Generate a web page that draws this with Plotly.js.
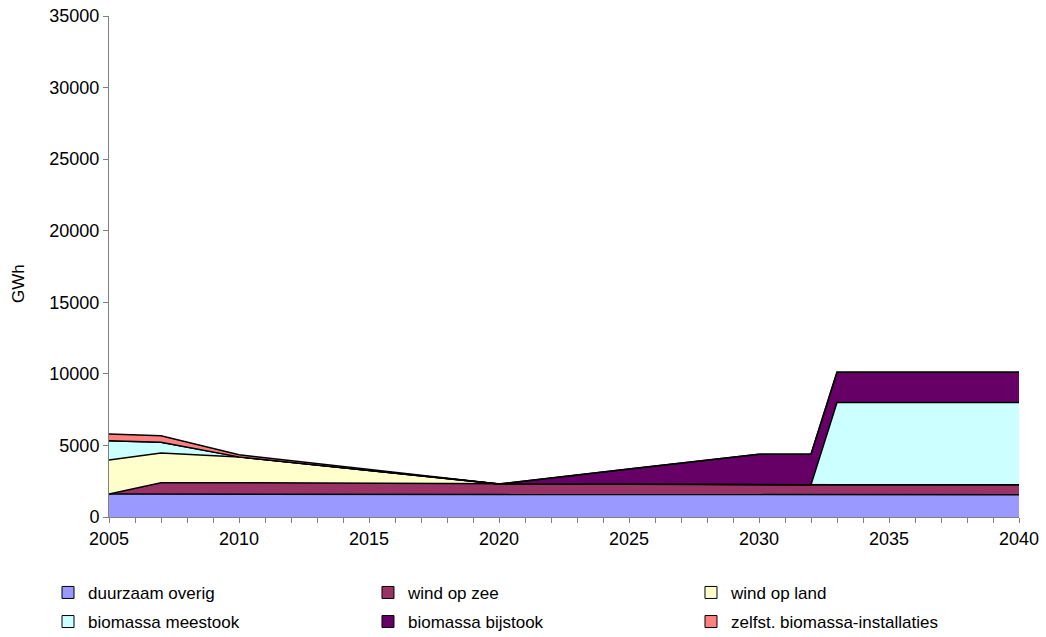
<!DOCTYPE html>
<html>
<head>
<meta charset="utf-8">
<script src="https://cdn.plot.ly/plotly-3.0.1.min.js"></script>
<style>html,body{margin:0;padding:0;background:#fff;}#chart{width:1046px;height:637px;}</style>
</head>
<body>
<div id="chart"></div>
<script>
const years = [2005, 2007, 2010, 2020, 2025, 2030, 2032, 2033, 2040];
const duurzaamOverig = [1600, 1600, 1600, 1550, 1550, 1550, 1550, 1550, 1550];
const windOpZee = [0, 800, 800, 750, 750, 700, 700, 700, 700];
const windOpLand = [2380, 2070, 1800, 0, 0, 0, 0, 0, 0];
const biomassaMeestook = [1350, 750, 0, 0, 0, 0, 0, 5750, 5750];
const biomassaBijstook = [0, 0, 0, 0, 1050, 2130, 2130, 2110, 2110];
const zelfstBiomassa = [470, 460, 150, 0, 0, 0, 0, 0, 0];

const seriesNames = ['duurzaam overig', 'wind op zee', 'wind op land', 'biomassa meestook', 'biomassa bijstook', 'zelfst. biomassa-installaties'];
const seriesValues = [duurzaamOverig, windOpZee, windOpLand, biomassaMeestook, biomassaBijstook, zelfstBiomassa];
const seriesColors = ['#9999FF', '#993366', '#FFFFCC', '#CCFFFF', '#660066', '#FF8080'];
const legendIds = ['legend', 'legend2', 'legend3', 'legend', 'legend2', 'legend3'];
const yTitle = 'GWh';

const areaTraces = seriesNames.map((n, i) => ({
  type: 'scatter', mode: 'lines', name: n, x: years, y: seriesValues[i],
  stackgroup: 'one', fillcolor: seriesColors[i], legendgroup: 'g' + i, showlegend: false,
  line: {color: '#000000', width: 1.5}
}));
// legend-only entries (square swatches like the original); no drawable points
const legendTraces = seriesNames.map((n, i) => ({
  type: 'bar', name: n, x: [null], y: [null], legendgroup: 'g' + i, showlegend: true,
  legend: legendIds[i],
  marker: {color: seriesColors[i], line: {color: '#000000', width: 1}}
}));

function legendAt(xPos) {
  return {
    orientation: 'v', x: xPos, xref: 'container', xanchor: 'left',
    y: 0.0975, yref: 'container', yanchor: 'top',
    font: {size: 17}, itemwidth: 30, traceorder: 'grouped', tracegroupgap: 4,
    bgcolor: 'rgba(0,0,0,0)'
  };
}

const layout = {
  width: 1046, height: 637,
  margin: {l: 109, r: 27, t: 16, b: 120, autoexpand: false},
  paper_bgcolor: '#ffffff', plot_bgcolor: '#ffffff',
  font: {family: 'Arial, "Liberation Sans", sans-serif', color: '#000000', size: 17},
  showlegend: true,
  xaxis: {
    type: 'linear', range: [2005, 2040], dtick: 5, tick0: 2005,
    showgrid: false, zeroline: false, showline: true, linecolor: '#808080', linewidth: 1,
    ticks: 'outside', ticklen: 5, tickcolor: '#808080',
    minor: {dtick: 1, ticks: 'outside', ticklen: 5, tickcolor: '#808080'},
    tickfont: {size: 18}, tickformat: 'd', automargin: false
  },
  yaxis: {
    range: [0, 35000], dtick: 5000, showgrid: false, zeroline: false,
    showline: true, linecolor: '#808080', linewidth: 1,
    ticks: 'outside', ticklen: 5, tickcolor: '#808080',
    tickfont: {size: 18}, tickformat: 'd', automargin: false
  },
  annotations: [{
    text: yTitle, xref: 'paper', yref: 'paper', x: -0.1, y: 0.465,
    xanchor: 'center', yanchor: 'middle', textangle: -90, showarrow: false,
    font: {size: 17, color: '#000000'}
  }],
  legend: legendAt(0.0459),
  legend2: legendAt(0.3518),
  legend3: legendAt(0.6606)
};

Plotly.newPlot('chart', areaTraces.concat(legendTraces), layout, {displayModeBar: false, staticPlot: true});
</script>
</body>
</html>
